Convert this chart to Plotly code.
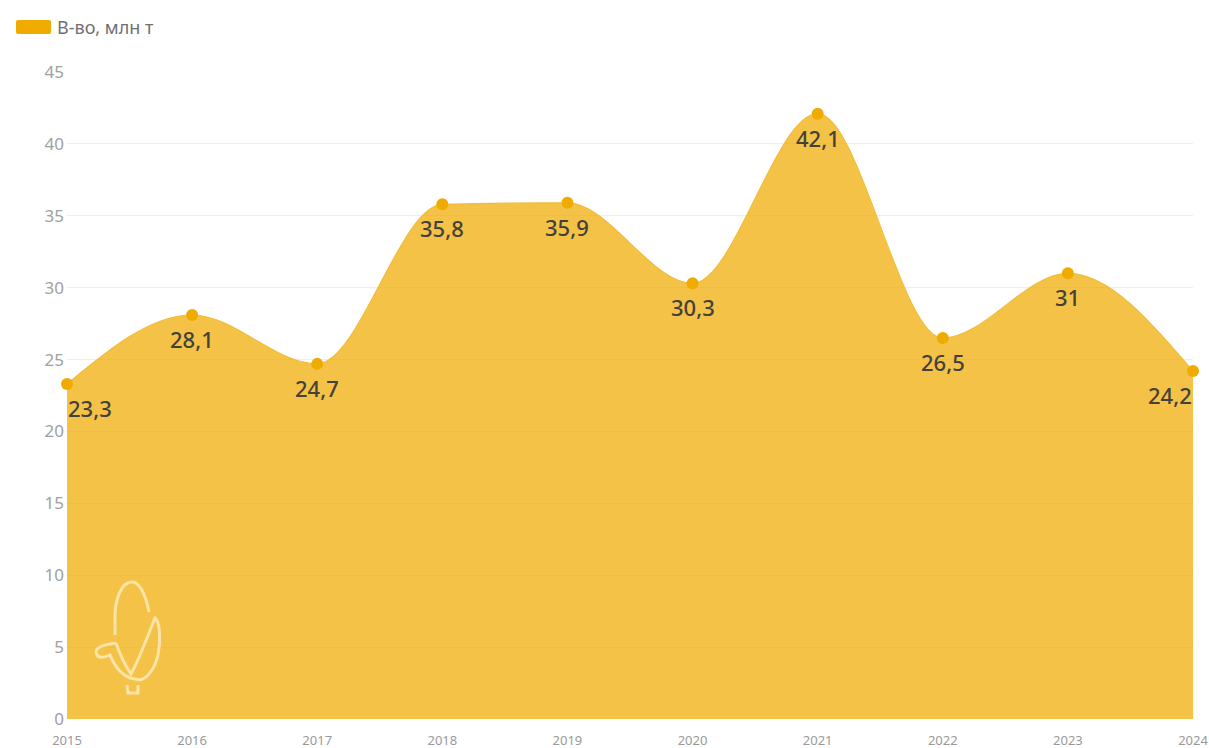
import plotly.graph_objects as go

W, H = 1209, 748
years = [2015, 2016, 2017, 2018, 2019, 2020, 2021, 2022, 2023, 2024]
year_labels = ["2015", "2016", "2017", "2018", "2019", "2020", "2021", "2022", "2023", "2024"]
output = [23.3, 28.1, 24.7, 35.8, 35.9, 30.3, 42.1, 26.5, 31, 24.2]
labels = ["23,3", "28,1", "24,7", "35,8", "35,9", "30,3", "42,1", "26,5", "31", "24,2"]
label_anchor = ["left"] + ["center"] * 8 + ["right"]
series_name = "В-во, млн т"
y_ticks = [0, 5, 10, 15, 20, 25, 30, 35, 40, 45]

L, R, T, B = 67, 16, 72, 29
BASE = "#F0AB00"
FILL = "rgba(240,171,0,0.72)"
FONT = "Noto Sans"


def px(x):
    return (x - L) / (W - L - R)


def py(y):
    return (H - B - y) / (H - T - B)


def path(points):
    out = []
    for cmd, *nums in points:
        coords = [f"{px(nums[i]):.5f},{py(nums[i + 1]):.5f}" for i in range(0, len(nums), 2)]
        out.append(cmd + " ".join(coords))
    return " ".join(out)


def sign(v):
    return (v > 0) - (v < 0)


def monotone_curve(xs, ys):
    """SVG path through the data: monotone cubic segments, in data coordinates."""
    n = len(xs)
    slopes = [(ys[i + 1] - ys[i]) / (xs[i + 1] - xs[i]) for i in range(n - 1)]
    t = [0.0] * n
    for i in range(1, n - 1):
        s0, s1 = slopes[i - 1], slopes[i]
        p = (s0 + s1) / 2
        t[i] = (sign(s0) + sign(s1)) * min(abs(s0), abs(s1), 0.5 * abs(p))
    t[0] = (3 * slopes[0] - t[1]) / 2
    t[-1] = (3 * slopes[-1] - t[-2]) / 2
    d = f"M{xs[0]},{ys[0]}"
    for i in range(n - 1):
        dx = (xs[i + 1] - xs[i]) / 3
        d += (f" C{xs[i] + dx},{ys[i] + dx * t[i]} {xs[i + 1] - dx},{ys[i + 1] - dx * t[i + 1]}"
              f" {xs[i + 1]},{ys[i + 1]}")
    return d


logo_paths = [
    # cob outline
    [("M", 149, 612), ("C", 146, 596, 140, 582, 132, 582), ("C", 121, 582, 115, 600, 115, 617),
     ("L", 115, 635)],
    # inner V with right leaf
    [("M", 116, 643), ("C", 120, 655, 125, 665, 131, 674), ("C", 139, 660, 148, 635, 155, 618),
     ("C", 160, 622, 161, 640, 158, 655), ("C", 155, 668, 148, 678, 140, 680),
     ("L", 130, 678)],
    # left leaf
    [("M", 116, 643), ("C", 108, 644, 96, 646, 96, 652), ("C", 97, 659, 104, 658, 110, 655),
     ("C", 114, 665, 120, 674, 130, 678)],
    # stem
    [("M", 127, 685), ("L", 128, 693), ("L", 138, 693), ("L", 138, 685)],
]

swatch = [("M", 18, 20), ("L", 49, 20), ("Q", 51, 20, 51, 22), ("L", 51, 32), ("Q", 51, 34, 49, 34),
          ("L", 18, 34), ("Q", 16, 34, 16, 32), ("L", 16, 22), ("Q", 16, 20, 18, 20), ("Z",)]

curve = monotone_curve(years, output)
area = curve + f" L{years[-1]},0 L{years[0]},0 Z"

fig = go.Figure()
fig.add_trace(go.Scatter(
    x=years, y=output, name=series_name, mode="markers",
    marker=dict(size=12, color=BASE), cliponaxis=False,
))

area_shapes = [
    dict(type="path", xref="x", yref="y", path=area, fillcolor=FILL, line=dict(width=0), layer="between"),
    dict(type="path", xref="x", yref="y", path=curve, fillcolor="rgba(0,0,0,0)",
         line=dict(color="#F2BC35", width=1.2), layer="between"),
]

value_labels = [
    dict(x=x, y=y, text=t, xref="x", yref="y", xanchor=a, yanchor="middle", yshift=-24,
         showarrow=False, borderpad=0, font=dict(family=FONT, size=22, color="#43413A", weight=500))
    for x, y, t, a in zip(years, output, labels, label_anchor)
]

fig.update_layout(
    width=W, height=H, autosize=False,
    margin=dict(l=L, r=R, t=T, b=B, autoexpand=False),
    paper_bgcolor="white", plot_bgcolor="white",
    font=dict(family=FONT),
    showlegend=False,
    hovermode=False,
    shapes=area_shapes + [
        dict(type="path", xref="paper", yref="paper", path=path(p),
             line=dict(color="#FBE4A6", width=3), fillcolor="rgba(0,0,0,0)", layer="above")
        for p in logo_paths
    ] + [
        dict(type="path", xref="paper", yref="paper", path=path(swatch),
             fillcolor=BASE, line=dict(width=0), layer="above"),
    ],
    annotations=value_labels + [
        dict(text=series_name, xref="paper", yref="paper", x=px(55), y=py(27), xanchor="left",
             yanchor="middle", showarrow=False, font=dict(family=FONT, size=18, color="#6F6F6F")),
    ],
    xaxis=dict(range=[2015, 2024], tickvals=years, ticktext=year_labels, showgrid=False,
               zeroline=False, showline=False, automargin=False,
               ticks="", tickangle=0, ticklabelstandoff=12,
               tickfont=dict(family=FONT, size=13, color="#9A9A9A")),
    yaxis=dict(range=[0, 45], tickvals=y_ticks, showgrid=True, gridcolor="#EEEEEE", gridwidth=1,
               zeroline=False, showline=False, automargin=False, ticks="", ticklabelstandoff=2,
               tickfont=dict(family=FONT, size=17, color="#A0A0A0")),
)

fig.write_html("out.html", post_script="document.body.style.margin='0';",
               config=dict(displayModeBar=False))
